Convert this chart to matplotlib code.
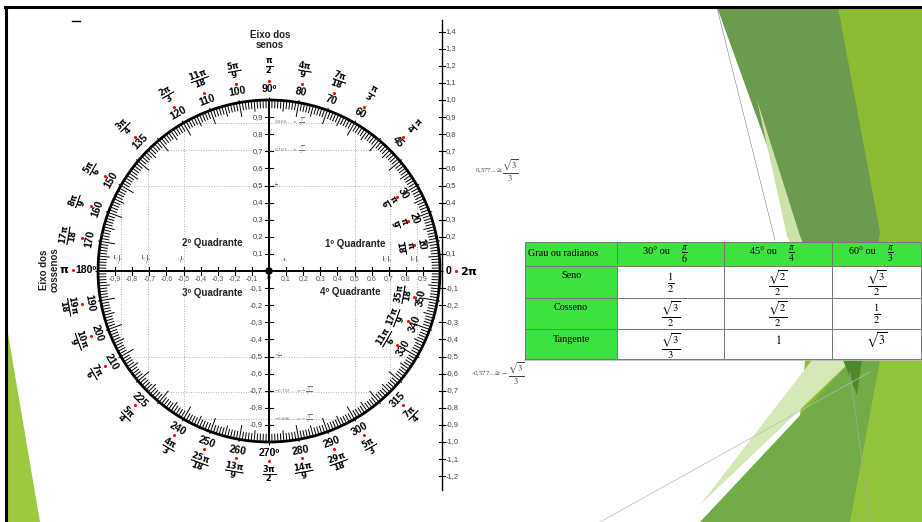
import numpy as np
import matplotlib
matplotlib.use("Agg")
import matplotlib.pyplot as plt
from matplotlib.patches import Polygon, Rectangle, Circle
from matplotlib.collections import LineCollection

plt.rcParams['font.family'] = ['Liberation Sans', 'DejaVu Sans']

# ---------------- data ----------------
deg_marks = [10, 20, 30, 45, 60, 70, 80, 90, 100, 110, 120, 135, 150, 160, 170,
             190, 200, 210, 225, 240, 250, 260, 270, 280, 290, 300, 315, 330, 340, 350]
rad_marks = [r"\frac{\pi}{18}", r"\frac{\pi}{9}", r"\frac{\pi}{6}", r"\frac{\pi}{4}", r"\frac{\pi}{3}",
             r"\frac{7\pi}{18}", r"\frac{4\pi}{9}", r"\frac{\pi}{2}", r"\frac{5\pi}{9}", r"\frac{11\pi}{18}",
             r"\frac{2\pi}{3}", r"\frac{3\pi}{4}", r"\frac{5\pi}{6}", r"\frac{8\pi}{9}", r"\frac{17\pi}{18}",
             r"\frac{19\pi}{18}", r"\frac{10\pi}{9}", r"\frac{7\pi}{6}", r"\frac{5\pi}{4}", r"\frac{4\pi}{3}",
             r"\frac{25\pi}{18}", r"\frac{13\pi}{9}", r"\frac{3\pi}{2}", r"\frac{14\pi}{9}", r"\frac{29\pi}{18}",
             r"\frac{5\pi}{3}", r"\frac{7\pi}{4}", r"\frac{11\pi}{6}", r"\frac{17\pi}{9}", r"\frac{35\pi}{18}"]
inner_marks = [10, 20, 30, 330, 340, 350]
axis_ticks = [-0.9, -0.8, -0.7, -0.6, -0.5, -0.4, -0.3, -0.2, -0.1,
              0.1, 0.2, 0.3, 0.4, 0.5, 0.6, 0.7, 0.8, 0.9]
tan_ticks = [1.4, 1.3, 1.2, 1.1, 1.0, 0.9, 0.8, 0.7, 0.6, 0.5, 0.4, 0.3, 0.2, 0.1,
             -0.1, -0.2, -0.3, -0.4, -0.5, -0.6, -0.7, -0.8, -0.9, -1.0, -1.1, -1.2]
notable = [0.5, 0.707, 0.866]
quadrants = ["1º Quadrante", "2º Quadrante", "3º Quadrante", "4º Quadrante"]

tbl_cols = ["Grau ou radianos", "30° ou", "45° ou", "60° ou"]
tbl_col_frac = ["", r"\frac{\pi}{6}", r"\frac{\pi}{4}", r"\frac{\pi}{3}"]
tbl_rows = ["Seno", "Cosseno", "Tangente"]
tbl_vals = [[r"\frac{1}{2}", r"\frac{\sqrt{2}}{2}", r"\frac{\sqrt{3}}{2}"],
            [r"\frac{\sqrt{3}}{2}", r"\frac{\sqrt{2}}{2}", r"\frac{1}{2}"],
            [r"\frac{\sqrt{3}}{3}", r"1", r"\sqrt{3}"]]

# ---------------- layout ----------------
W, H = 922, 522
CX, CY, R = 269, 271, 171

fig = plt.figure(figsize=(W / 100, H / 100), dpi=100)
bg = fig.add_axes([0, 0, 1, 1])
bg.set_xlim(0, W)
bg.set_ylim(H, 0)
bg.axis('off')

ax = fig.add_axes([0, 0, 1, 1])
ax.set_xlim(-CX / R, (W - CX) / R)
ax.set_ylim(-(H - CY) / R, CY / R)
ax.axis('off')
ax.patch.set_alpha(0)

# ---------------- decoration ----------------
decor = [
    ([(838, 7), (922, 7), (922, 522), (790, 522)], '#8dbb35'),
    ([(717, 7), (838, 7), (880, 232), (857, 395)], '#6c9b50'),
    ([(757, 100), (800, 236), (850, 362), (787, 236)], '#cde2ab'),
    ([(812, 360), (852, 360), (700, 505)], '#d5e8b7'),
    ([(700, 522), (852, 360), (905, 360), (862, 522)], '#74ab49'),
    ([(843, 360), (862, 360), (857, 395)], '#4e8a2c'),
    ([(880, 360), (922, 360), (922, 522), (850, 522)], '#93c23b'),
    ([(6, 322), (40, 522), (6, 522)], '#9dc83f'),
]
for pts, col in decor:
    bg.add_patch(Polygon(pts, closed=True, fc=col, ec='none', zorder=1))
bg.plot([717, 775], [8, 240], color='#999999', lw=0.5, zorder=2)
bg.plot([600, 870], [522, 372], color='#bbbbbb', lw=0.5, zorder=2)
bg.plot([850, 870], [372, 522], color='#aaaaaa', lw=0.5, zorder=2)
bg.plot([5, 922], [7, 7], color='black', lw=2.2, zorder=3)
bg.plot([6, 6], [7, 522], color='black', lw=2.2, zorder=3)
bg.plot([72, 80], [21, 21], color='black', lw=1, zorder=3)

# ---------------- table ----------------
xs = [525, 617, 724, 832, 921]
ys = [242, 266, 298, 329, 359]
green = '#3ee23e'
for i in range(4):
    for j in range(4):
        fc = green if (i == 0 or j == 0) else 'white'
        bg.add_patch(Rectangle((xs[j], ys[i]), xs[j + 1] - xs[j], ys[i + 1] - ys[i],
                               fc=fc, ec='#777777', lw=0.7, zorder=5))
bg.plot([525, 921], [360, 360], color='#bbbbbb', lw=1.2, zorder=4)
serif = ['Liberation Serif', 'DejaVu Serif']
bg.text(528, 253, tbl_cols[0], family=serif, fontsize=7.3, va='center', ha='left', zorder=6)
for j in range(1, 4):
    cx = (xs[j] + xs[j + 1]) / 2
    bg.text(cx - 1, 252, tbl_cols[j], family=serif, fontsize=7.3, va='center', ha='right', zorder=6)
    bg.text(cx + 14, 254, '$' + tbl_col_frac[j] + '$', fontsize=10, va='center', ha='center',
            math_fontfamily='stix', zorder=6)
row_text_y = [275, 307, 339]
row_val_y = [283, 314, 346]
for i, name in enumerate(tbl_rows):
    bg.text((xs[0] + xs[1]) / 2, row_text_y[i], name, family=serif, fontsize=7.3,
            va='center', ha='center', zorder=6)
    for j in range(3):
        cx = (xs[j + 1] + xs[j + 2]) / 2
        v = tbl_vals[i][j]
        if v.startswith(r'\frac'):
            bg.text(cx, row_val_y[i], '$' + v + '$', fontsize=11, va='center', ha='center',
                    math_fontfamily='stix', zorder=6)
        else:
            bg.text(cx, row_text_y[i] + 1, '$' + v + '$', fontsize=8.5, va='center', ha='center',
                    math_fontfamily='stix', zorder=6)

# ---------------- circle ----------------
ax.add_patch(Circle((0, 0), 1, fill=False, ec='black', lw=2.0, zorder=4))
segs = []
for d in range(360):
    t = np.radians(d)
    if d % 10 == 0:
        r0, r1 = 0.915, 1.015
    elif d % 5 == 0:
        r0, r1 = 0.935, 1.0
    else:
        r0, r1 = 0.952, 1.0
    segs.append([(r0 * np.cos(t), r0 * np.sin(t)), (r1 * np.cos(t), r1 * np.sin(t))])
ax.add_collection(LineCollection(segs, colors='black', linewidths=0.7, zorder=4))

# guide dotted lines
for v in notable:
    w = np.sqrt(1 - v * v)
    for s in (1, -1):
        ax.plot([-w, w], [s * v, s * v], color='#999999', lw=0.6, ls=(0, (1, 2)), zorder=2)
        ax.plot([s * v, s * v], [-w, w], color='#999999', lw=0.6, ls=(0, (1, 2)), zorder=2)

# axes
ax.plot([-1, 1], [0, 0], color='black', lw=1.4, zorder=5)
ax.plot([0, 0], [-1, 1], color='black', lw=1.4, zorder=5)
ax.add_patch(Circle((0, 0), 0.018, color='black', zorder=6))
for v in axis_ticks:
    ax.plot([-0.025, 0.025], [v, v], color='black', lw=0.8, zorder=5)
    ax.plot([v, v], [-0.022, 0.022], color='black', lw=0.8, zorder=5)
    lab = f"{v:.1f}".replace('.', ',')
    ax.text(-0.035, v, lab, fontsize=5.5, color='#444444', ha='right', va='center', zorder=6)
    ax.text(v, -0.045, lab, fontsize=5, color='#555555', ha='center', va='center', zorder=6)
ax.text(0.0, -0.045, '0', fontsize=5, color='#555555', ha='center', va='center')

# tangent axis
TX = 1.012
ax.plot([TX, TX], [1.47, -1.28], color='black', lw=1.0, zorder=5)
for v in tan_ticks:
    ax.plot([TX - 0.02, TX + 0.02], [v, v], color='black', lw=0.8, zorder=5)
    ax.text(TX + 0.022, v, f"{v:.1f}".replace('.', ','), fontsize=5.5, color='#444444',
            ha='left', va='center', zorder=6)
ax.text(1.205, 0.585, r'0,577...$\cong$', fontsize=5, color='#444444', ha='left', va='center',
        family=['Liberation Serif', 'DejaVu Serif'], math_fontfamily='stix')
ax.text(1.36, 0.585, r'$\frac{\sqrt{3}}{3}$', fontsize=9, color='#444444', ha='left', va='center',
        math_fontfamily='stix')
ax.text(1.18, -0.6, r'-0,577...$\cong-$', fontsize=5, color='#444444', ha='left', va='center',
        family=['Liberation Serif', 'DejaVu Serif'], math_fontfamily='stix')
ax.text(1.40, -0.6, r'$\frac{\sqrt{3}}{3}$', fontsize=9, color='#444444', ha='left', va='center',
        math_fontfamily='stix')

# tiny notes on the axes
small = dict(fontsize=3, color='#777777', zorder=6)
for v, s in [(0.866, r'$0{,}866...\approx\ \frac{\sqrt{3}}{2}$'), (0.707, r'$0{,}707...\approx\ \frac{\sqrt{2}}{2}$'),
             (0.5, r'$\frac{1}{2}$'), (-0.5, r'$-\frac{1}{2}$'),
             (-0.707, r'$-0{,}707...\approx-\frac{\sqrt{2}}{2}$'), (-0.866, r'$-0{,}866...\approx-\frac{\sqrt{3}}{2}$')]:
    ax.text(0.03, v, s, ha='left', va='center', **small)
for v, s in [(-0.866, r'$-\frac{\sqrt{3}}{2}$'), (-0.707, r'$-\frac{\sqrt{2}}{2}$'), (-0.5, r'$-\frac{1}{2}$'),
             (0.1, r'$\frac{1}{2}$'), (0.707, r'$\frac{\sqrt{2}}{2}$'), (0.866, r'$\frac{\sqrt{3}}{2}$')]:
    ax.text(v + 0.0, 0.07, s, ha='center', va='center', rotation=90, **small)

# angle labels
for d, frac in zip(deg_marks, rad_marks):
    t = np.radians(d)
    rot = d - 90 if d < 180 else d - 270
    if d in inner_marks:
        rd, rdot, rf = 0.905, 0.862, 0.80
    else:
        rd, rdot, rf = 1.065, 1.11, 1.19
    lab = f"{d}º" if d in (90, 270) else str(d)
    ax.text(rd * np.cos(t), rd * np.sin(t), lab, fontsize=7.5, fontweight='bold', rotation=rot,
            rotation_mode='anchor', ha='center', va='center', zorder=6)
    ax.plot(rdot * np.cos(t), rdot * np.sin(t), 'o', color='red', ms=2.2, mew=0, zorder=6)
    ax.text(rf * np.cos(t), rf * np.sin(t), r'$\mathbf{' + frac + '}$', fontsize=8.5, rotation=rot,
            rotation_mode='anchor', ha='center', va='center', zorder=6)
# 180 and 0
ax.text(-1.008, 0.005, '180º', fontsize=7.5, fontweight='bold', ha='right', va='center')
ax.plot(-1.145, 0.005, 'o', color='red', ms=2.2, mew=0)
ax.text(-1.17, 0.005, r'$\mathbf{\pi}$', fontsize=8, ha='right', va='center')
ax.text(1.03, 0.0, '0', fontsize=7.5, fontweight='bold', ha='left', va='center')
ax.plot(1.095, 0.0, 'o', color='red', ms=2.2, mew=0)
ax.text(1.115, 0.0, r'$\mathbf{2\pi}$', fontsize=8, ha='left', va='center')

# quadrant & axis titles (pixel coordinates)
for (px, py), q in zip([(355, 244), (212, 243), (212, 293), (350, 292)], quadrants):
    bg.text(px, py, q, fontsize=7, fontweight='bold', color='#222222', ha='center', va='center', zorder=6)
bg.text(270, 40, 'Eixo dos\nsenos', fontsize=7, fontweight='bold', color='#222222',
        ha='center', va='center', linespacing=1.1, zorder=6)
bg.text(49, 270, 'Eixo dos\ncossenos', fontsize=7, fontweight='bold', color='#222222',
        ha='center', va='center', rotation=90, linespacing=1.1, zorder=6)

fig.savefig('out.png', dpi=100)
